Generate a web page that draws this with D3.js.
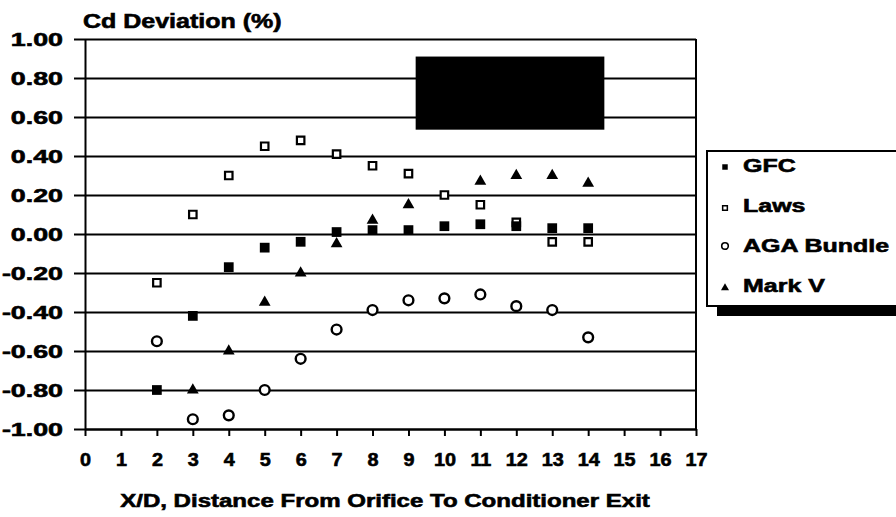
<!DOCTYPE html>
<html>
<head>
<meta charset="utf-8">
<script src="https://cdn.jsdelivr.net/npm/d3@7"></script>
<style>
  body { margin: 0; background: #fff; }
  text { font-family: "Liberation Sans", Arial, sans-serif; font-weight: bold; fill: #000;
         stroke: #000; stroke-width: 0.6px; }
  .axis path, .axis line, .grid line, .frame { stroke: #000; stroke-width: 2; }
  .grid path { display: none; }
</style>
</head>
<body>
<div id="chart"></div>
<script>
const WIDTH = 896, HEIGHT = 517;
const M = { top: 39, right: 200, bottom: 88, left: 85 };
const innerW = WIDTH - M.left - M.right;
const innerH = HEIGHT - M.top - M.bottom;

// data
const xTicks = [0, 1, 2, 3, 4, 5, 6, 7, 8, 9, 10, 11, 12, 13, 14, 15, 16, 17];
const yTicks = [1.00, 0.80, 0.60, 0.40, 0.20, 0.00, -0.20, -0.40, -0.60, -0.80, -1.00];

const gfcX  = [2, 3, 4, 5, 6, 7, 8, 9, 10, 11, 12, 13, 14];
const gfcY  = [-0.80, -0.42, -0.17, -0.07, -0.04, 0.01, 0.02, 0.02, 0.04, 0.05, 0.04, 0.03, 0.03];
const lawsX = [2, 3, 4, 5, 6, 7, 8, 9, 10, 11, 12, 13, 14];
const lawsY = [-0.25, 0.10, 0.30, 0.45, 0.48, 0.41, 0.35, 0.31, 0.20, 0.15, 0.06, -0.04, -0.04];
const agaX  = [2, 3, 4, 5, 6, 7, 8, 9, 10, 11, 12, 13, 14];
const agaY  = [-0.55, -0.95, -0.93, -0.80, -0.64, -0.49, -0.39, -0.34, -0.33, -0.31, -0.37, -0.39, -0.53];
const markX = [3, 4, 5, 6, 7, 8, 9, 11, 12, 13, 14];
const markY = [-0.80, -0.60, -0.35, -0.20, -0.05, 0.07, 0.15, 0.27, 0.30, 0.30, 0.26];

const seriesNames = ["GFC", "Laws", "AGA Bundle", "Mark V"];

const svg = d3.select("#chart").append("svg")
  .attr("width", WIDTH).attr("height", HEIGHT);
const g = svg.append("g").attr("transform", `translate(${M.left},${M.top})`);

const x = d3.scaleLinear().domain([0, 17]).range([0, innerW]);
const y = d3.scaleLinear().domain([-1, 1]).range([innerH, 0]);

const fmt = d => d.toFixed(2);

// grid
g.append("g").attr("class", "grid")
  .call(d3.axisLeft(y).tickValues(yTicks).tickSize(-innerW).tickFormat(""));

// right border
g.append("line").attr("class", "frame")
  .attr("x1", x(17)).attr("x2", x(17)).attr("y1", y(1)).attr("y2", y(-1));

// y axis
const yAx = g.append("g").attr("class", "axis")
  .call(d3.axisLeft(y).tickValues(yTicks).tickSize(11).tickSizeOuter(0).tickFormat(fmt));
yAx.selectAll("text")
  .style("font-size", "18.5px")
  .attr("x", -22 / 1.45).attr("dy", "0.36em")
  .attr("transform", "scale(1.45,1)");

// x axis
const xAx = g.append("g").attr("class", "axis")
  .attr("transform", `translate(0,${innerH})`)
  .call(d3.axisBottom(x).tickValues(xTicks).tickSize(7).tickSizeOuter(0).tickFormat(d => d));
xAx.selectAll("text")
  .style("font-size", "18px")
  .attr("y", 37).attr("dy", 0)
  .attr("transform", "scale(1.1,1)");

// annotation box
g.append("rect")
  .attr("x", x(9.2)).attr("y", y(0.91))
  .attr("width", x(14.45) - x(9.2)).attr("height", y(0.535) - y(0.91))
  .attr("fill", "#000");

// markers
const sym = (type, size) => d3.symbol().type(type).size(size)();
const markers = g.append("g");

markers.selectAll(".laws").data(d3.zip(lawsX, lawsY)).join("path")
  .attr("class", "laws")
  .attr("transform", d => `translate(${x(d[0])},${y(d[1])})`)
  .attr("d", sym(d3.symbolSquare, 56))
  .attr("fill", "#fff").attr("stroke", "#000").attr("stroke-width", 2.2);

markers.selectAll(".aga").data(d3.zip(agaX, agaY)).join("circle")
  .attr("class", "aga")
  .attr("cx", d => x(d[0])).attr("cy", d => y(d[1]))
  .attr("r", 4.9)
  .attr("fill", "#fff").attr("stroke", "#000").attr("stroke-width", 2.4);

markers.selectAll(".gfc").data(d3.zip(gfcX, gfcY)).join("path")
  .attr("class", "gfc")
  .attr("transform", d => `translate(${x(d[0])},${y(d[1])})`)
  .attr("d", sym(d3.symbolSquare, 95))
  .attr("fill", "#000");

markers.selectAll(".markv").data(d3.zip(markX, markY)).join("path")
  .attr("class", "markv")
  .attr("transform", d => `translate(${x(d[0])},${y(d[1])})`)
  .attr("d", sym(d3.symbolTriangle, 60))
  .attr("fill", "#000");

// titles
svg.append("text")
  .attr("transform", "translate(83,28) scale(1.25,1)")
  .style("font-size", "20px")
  .text("Cd Deviation (%)");

svg.append("text")
  .attr("transform", "translate(385,507) scale(1.3,1)")
  .attr("text-anchor", "middle")
  .style("font-size", "18.5px")
  .text("X/D, Distance From Orifice To Conditioner Exit");

// legend
const legend = svg.append("g").attr("transform", "translate(707,151)");
legend.append("rect").attr("x", 10).attr("y", 10)
  .attr("width", 200).attr("height", 155).attr("fill", "#000");
legend.append("rect").attr("x", 0).attr("y", 0)
  .attr("width", 200).attr("height", 155)
  .attr("fill", "#fff").attr("stroke", "#000").attr("stroke-width", 2);

const rows = legend.selectAll(".row").data(seriesNames).join("g")
  .attr("class", "row")
  .attr("transform", (_, i) => `translate(0,${21 + i * 40})`);

rows.append("text")
  .attr("transform", "translate(36,0) scale(1.35,1)")
  .style("font-size", "18.5px")
  .text(d => d);

rows.each(function(d, i) {
  const r = d3.select(this);
  if (i === 0) r.append("path").attr("transform", "translate(18,-5)")
    .attr("d", sym(d3.symbolSquare, 30)).attr("fill", "#000");
  if (i === 1) r.append("path").attr("transform", "translate(18,-4)")
    .attr("d", sym(d3.symbolSquare, 22)).attr("fill", "#fff")
    .attr("stroke", "#000").attr("stroke-width", 1.5);
  if (i === 2) r.append("circle").attr("cx", 18).attr("cy", -6).attr("r", 3.3)
    .attr("fill", "#fff").attr("stroke", "#000").attr("stroke-width", 1.6);
  if (i === 3) r.append("path").attr("transform", "translate(18,-4)")
    .attr("d", sym(d3.symbolTriangle, 28)).attr("fill", "#000");
});
</script>
</body>
</html>
